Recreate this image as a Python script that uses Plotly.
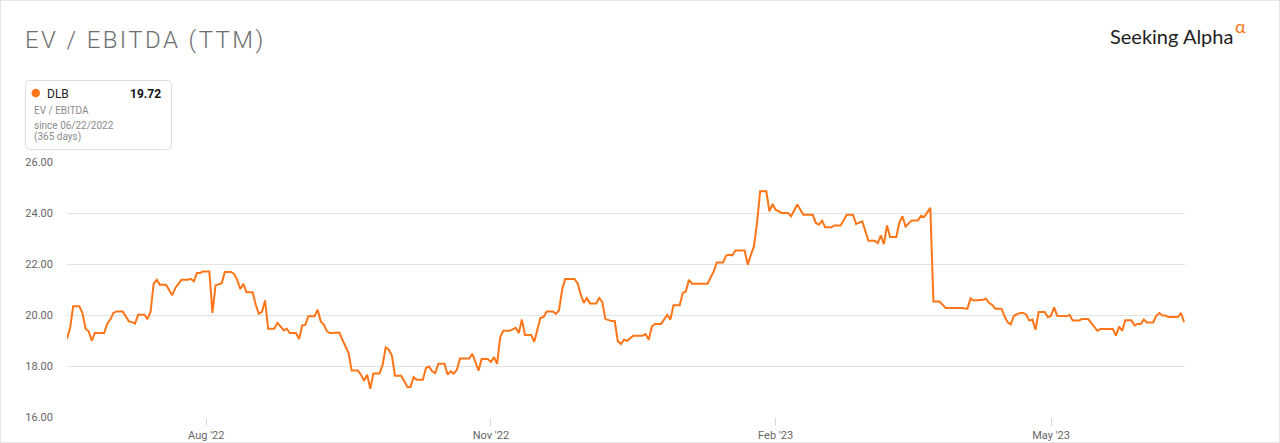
import pandas as pd
import plotly.graph_objects as go

# ---- data ----
start_date = "2022-06-17"
day_offsets = [
    0, 1, 2, 4, 5, 6, 7, 8, 9, 12, 13, 14, 15, 16, 18, 19, 20, 21, 22, 23, 25, 26, 27, 28, 29, 30,
    32, 34, 35, 37, 39, 40, 41, 42, 43, 44, 46, 47, 48, 50, 51, 53, 54, 55, 56, 57, 58, 60, 61, 62,
    63, 64, 65, 67, 68, 69, 70, 71, 72, 74, 75, 76, 77, 78, 80, 81, 82, 83, 84, 85, 88, 89, 91, 92,
    94, 95, 96, 97, 98, 99, 101, 102, 103, 104, 105, 106, 108, 109, 110, 111, 112, 113, 115, 116,
    117, 118, 119, 120, 122, 123, 124, 125, 126, 127, 130, 131, 132, 133, 134, 136, 137, 138, 139,
    140, 141, 143, 145, 146, 147, 148, 150, 151, 153, 154, 155, 157, 158, 159, 160, 161, 164, 165,
    166, 167, 168, 169, 171, 172, 173, 174, 176, 177, 178, 179, 180, 181, 183, 186, 187, 188, 189,
    190, 192, 193, 194, 195, 196, 198, 199, 200, 201, 202, 207, 208, 209, 210, 212, 213, 214, 215,
    216, 219, 220, 221, 222, 223, 224, 226, 227, 228, 229, 231, 233, 234, 236, 238, 241, 242, 243,
    244, 245, 247, 248, 250, 252, 254, 255, 257, 259, 261, 262, 263, 264, 265, 266, 268, 269, 270,
    271, 273, 275, 276, 277, 279, 280, 282, 284, 289, 291, 292, 293, 296, 297, 298, 299, 300, 302,
    303, 304, 305, 306, 308, 309, 310, 311, 312, 313, 314, 316, 317, 318, 319, 320, 323, 324, 325,
    327, 328, 330, 331, 333, 334, 338, 339, 340, 341, 342, 344, 345, 346, 347, 348, 349, 351, 352,
    353, 354, 355, 356, 359, 360, 361,
]
ev_ebitda = [
    19.07, 19.49, 20.34, 20.34, 20.08, 19.46, 19.36, 18.99, 19.29, 19.29, 19.66, 19.82, 20.08, 20.14,
    20.14, 19.95, 19.75, 19.72, 19.66, 20.01, 20.01, 19.84, 20.12, 21.22, 21.38, 21.19,
    21.19, 20.77, 21.06, 21.38, 21.38, 21.42, 21.32, 21.65, 21.65, 21.71, 21.71, 20.08, 21.16, 21.25,
    21.69, 21.69, 21.61, 21.38, 21.02, 21.22, 20.89, 20.89, 20.40, 20.05,
    20.12, 20.57, 19.46, 19.46, 19.69, 19.55, 19.40, 19.46, 19.29, 19.29, 19.06, 19.59, 19.61, 19.95,
    19.95, 20.21, 19.75, 19.62, 19.36, 19.29, 19.31, 19.03, 18.51, 17.82,
    17.82, 17.66, 17.42, 17.66, 17.11, 17.71, 17.71, 18.05, 18.73, 18.64, 18.40, 17.62, 17.62, 17.40,
    17.18, 17.18, 17.57, 17.46, 17.46, 17.92,
    17.98, 17.79, 17.72, 18.09, 18.09, 17.66, 17.79, 17.70, 17.85, 18.29, 18.29, 18.48, 18.12, 17.82,
    18.27, 18.27, 18.16, 18.35, 18.09,
    19.14, 19.38, 19.38, 19.50, 19.29, 19.82, 19.22, 19.22, 18.95, 19.89, 19.92, 20.14, 20.14, 20.04,
    20.18, 20.99, 21.41, 21.41, 21.25,
    20.82, 20.47, 20.67, 20.45, 20.45, 20.66, 20.50, 19.84, 19.76, 19.76, 18.97, 18.86, 19.03, 18.99,
    19.19, 19.19, 19.25, 19.03, 19.55,
    19.65, 19.65, 19.84, 20.01, 19.82, 20.38, 20.38, 20.86, 20.93, 21.38, 21.23, 21.23, 21.47, 21.71,
    22.06, 22.06, 22.33, 22.36, 22.34,
    22.53, 22.53, 21.97, 22.36, 22.69, 23.61, 24.85, 24.85, 24.06, 24.35, 24.13, 24.00, 24.00, 23.87,
    24.33, 23.93, 23.93, 23.61, 23.54,
    23.70, 23.44, 23.44, 23.51, 23.51, 23.93, 23.93, 23.57, 23.67, 22.91, 22.91, 22.82, 23.12, 22.78,
    23.51, 23.06, 23.06, 23.63, 23.87,
    23.47, 23.71, 23.71, 23.89, 23.84, 24.20, 20.53, 20.53, 20.27, 20.27, 20.25, 20.65, 20.57, 20.60,
    20.64, 20.47, 20.40, 20.25, 20.25,
    19.95, 19.71, 19.63, 19.97, 20.08, 20.08, 20.01, 19.78, 19.82, 19.42, 20.12, 20.12, 19.91, 19.97,
    20.30, 19.97, 19.95, 20.01, 19.78,
    19.78, 19.84, 19.84, 19.69, 19.38, 19.45, 19.45, 19.19, 19.55, 19.38, 19.79, 19.79, 19.59, 19.65,
    19.65, 19.82, 19.71, 19.71, 19.97,
    20.08, 19.98, 19.98, 19.92, 19.92, 20.08, 19.72,
]
x_tick_dates = ["2022-08-01", "2022-11-01", "2023-02-01", "2023-05-01"]
x_tick_labels = ["Aug '22", "Nov '22", "Feb '23", "May '23"]
y_ticks = [16, 18, 20, 22, 24, 26]
ticker = "DLB"
metric = "EV / EBITDA"
since_text = "since 06/22/2022"
days_text = "(365 days)"
title_text = "EV / EBITDA (TTM)"

# ---- figure ----
W, H = 1280, 443
ML, MR, MT, MB = 67, 95, 162, 26
PW, PH = W - ML - MR, H - MT - MB

ORANGE = "#ff7518"
FONT = "Roboto, Arial, sans-serif"

start = pd.Timestamp(start_date)
dates = start + pd.to_timedelta(day_offsets, unit="D")
x_end = start + pd.Timedelta(days=361.3)


def px(x):
    return (x - ML) / PW


def py(y):
    return (H - MB - y) / PH


fig = go.Figure()
fig.add_trace(go.Scatter(
    x=dates, y=ev_ebitda, mode="lines",
    line=dict(color=ORANGE, width=2),
    hoverinfo="x+y", showlegend=False,
))

fig.update_layout(
    width=W, height=H, autosize=False,
    margin=dict(l=ML, r=MR, t=MT, b=MB, pad=0, autoexpand=False),
    paper_bgcolor="white", plot_bgcolor="white",
    font=dict(family=FONT, color="#666666", size=11),
    title=dict(
        text=title_text, xref="container", yref="container",
        x=25 / W, xanchor="left", y=1 - 40 / H, yanchor="middle",
        font=dict(family=FONT, size=24, color="#6e6e6e", weight=300),
    ),
    xaxis=dict(
        type="date", range=[start, x_end],
        tickmode="array", tickvals=x_tick_dates, ticktext=x_tick_labels,
        ticks="outside", ticklen=8, tickcolor="#d9d9d9", tickwidth=1,
        showgrid=False, zeroline=False, showline=False, automargin=False,
        tickfont=dict(size=11, color="#666666"),
    ),
    yaxis=dict(
        range=[16, 26], tickmode="array", tickvals=y_ticks,
        tickformat=".2f", showgrid=True, gridcolor="#e3e3e3", gridwidth=1,
        zeroline=False, showline=False, ticks="", automargin=False,
        ticklabelstandoff=13,
        tickfont=dict(size=11, color="#666666"),
    ),
)

# outer frame
fig.add_shape(type="rect", xref="paper", yref="paper",
              x0=px(0), x1=px(W), y0=py(H), y1=py(0),
              line=dict(color="#e6e6e6", width=2), layer="below")

# legend card (rounded rectangle)
x0, x1, y0, y1, r = px(25.5), px(171.5), py(149.5), py(80.5), 4
rx, ry = r / PW, r / PH
path = (f"M {x0+rx},{y1} L {x1-rx},{y1} Q {x1},{y1} {x1},{y1-ry} "
        f"L {x1},{y0+ry} Q {x1},{y0} {x1-rx},{y0} L {x0+rx},{y0} "
        f"Q {x0},{y0} {x0},{y0+ry} L {x0},{y1-ry} Q {x0},{y1} {x0+rx},{y1} Z")
fig.add_shape(type="path", xref="paper", yref="paper", path=path,
              line=dict(color="#dedede", width=1), fillcolor="white")
fig.add_shape(type="circle", xref="paper", yref="paper",
              x0=px(31.5), x1=px(40), y0=py(97.3), y1=py(88.8),
              line=dict(width=0), fillcolor=ORANGE)


def ann(text, x, y, size, color, xanchor="left", weight="normal", family=FONT):
    fig.add_annotation(text=text, x=px(x), y=py(y), xref="paper", yref="paper",
                       xanchor=xanchor, yanchor="middle", showarrow=False,
                       font=dict(size=size, color=color, family=family, weight=weight))


ann(ticker, 44.5, 93.5, 12, "#222222")
ann(f"{ev_ebitda[-1]:.2f}", 163, 93.5, 12, "#111111", xanchor="right", weight="bold")
ann(metric, 32, 110, 10, "#8c8c8c")
ann(since_text, 32, 125.5, 10, "#8c8c8c")
ann(days_text, 32, 137.5, 10, "#8c8c8c")

# Seeking Alpha logo text
ann("Seeking Alpha", 1108, 36, 20, "#1e1e1e", family="Lato, Roboto, sans-serif")
ann("α", 1233, 26, 18, ORANGE, family="Lato, Roboto, sans-serif")

fig.write_html(
    "out.html",
    config={"displayModeBar": False},
    post_script=(
        "document.body.style.margin='0';"
        "document.body.style.overflow='hidden';"
        "document.querySelectorAll('.gtitle').forEach(function(e){e.style.letterSpacing='2.4px';});"
    ),
)
